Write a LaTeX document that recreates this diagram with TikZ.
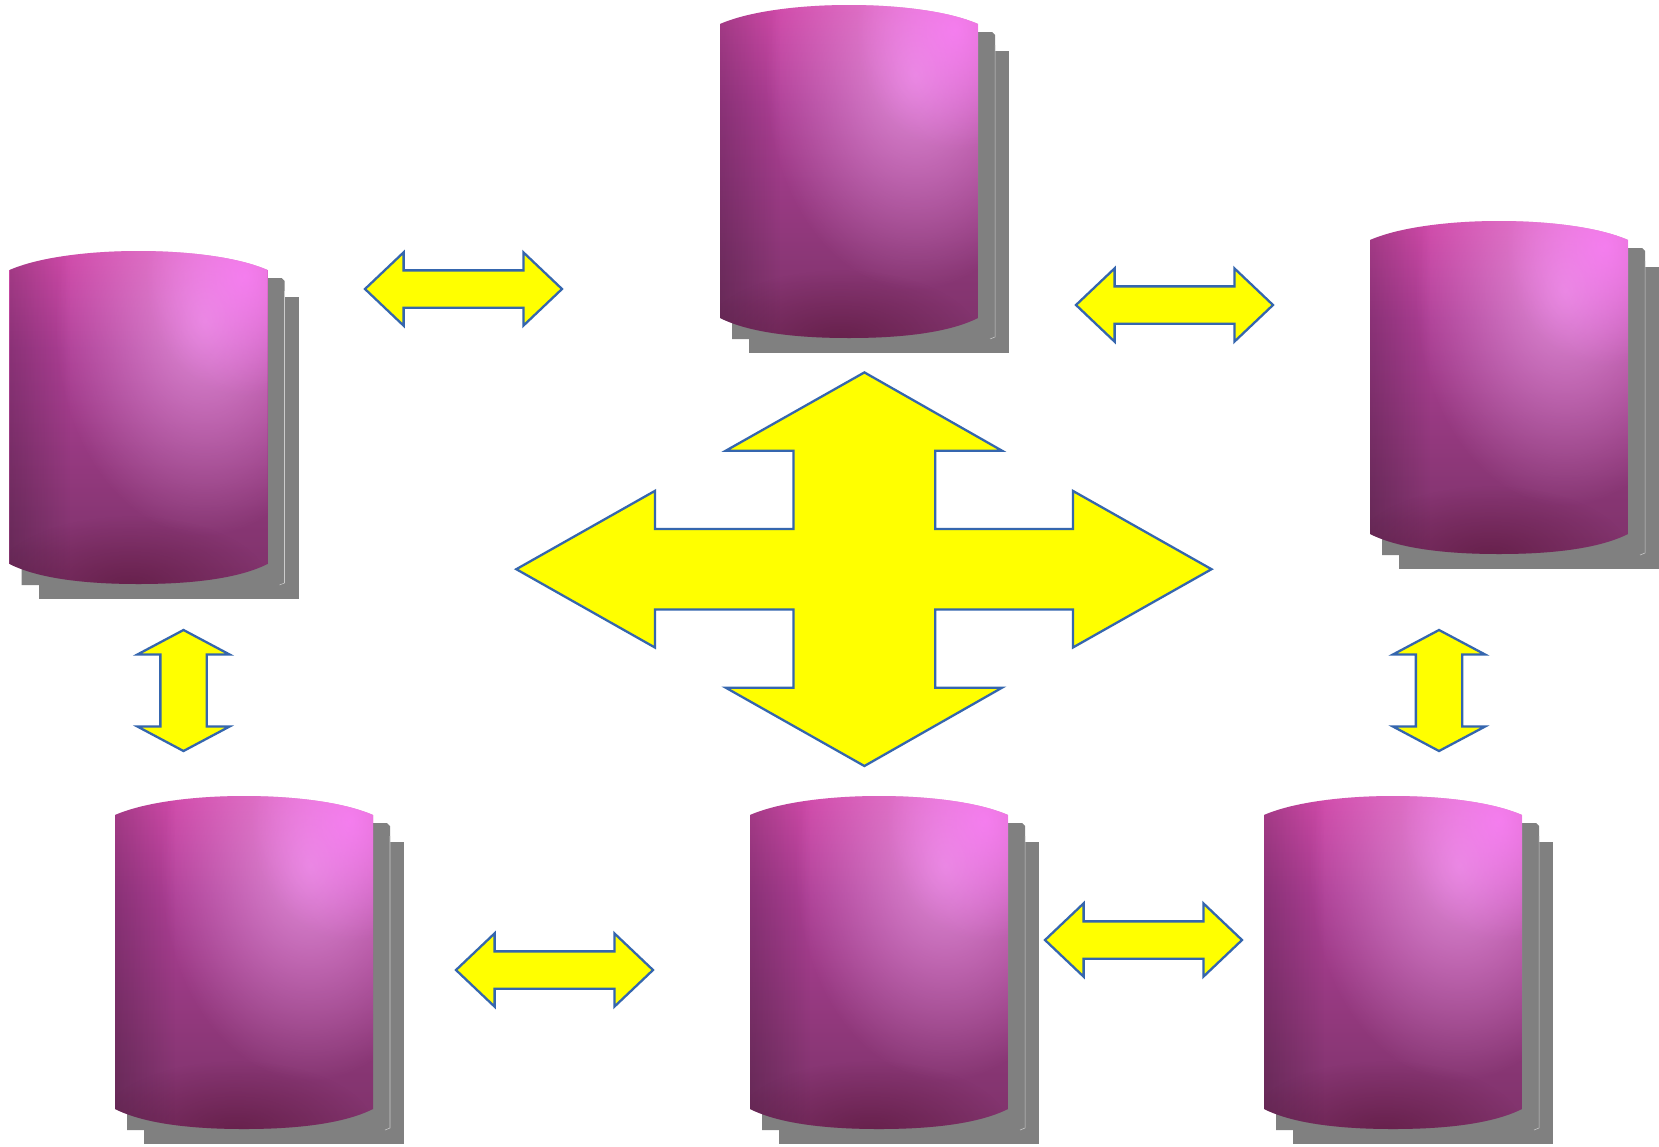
\documentclass[tikz,border=0pt]{standalone}
\usetikzlibrary{shapes.arrows,fadings}
\newcommand{\pxu}{0.02cm}
\tikzfading[name=softglow, inner color=transparent!30, outer color=transparent!100]
\tikzfading[name=edgeleft, left color=transparent!80, right color=transparent!100]
\definecolor{drumA}{RGB}{106,40,88}
\definecolor{drumB}{RGB}{116,46,94}
\definecolor{drumC}{RGB}{136,54,116}
\definecolor{drumD}{RGB}{172,62,148}
\definecolor{drumE}{RGB}{226,80,180}
\definecolor{drumF}{RGB}{252,92,204}
\definecolor{drumglow}{RGB}{244,170,242}
\definecolor{drumrim}{RGB}{255,130,255}
\definecolor{arrowline}{RGB}{53,102,174}
\definecolor{arrowfill}{RGB}{255,255,0}
\definecolor{drumshadow}{RGB}{128,128,128}
\pgfdeclareverticalshading{drumbody}{100bp}{
  color(0bp)=(drumA); color(12bp)=(drumB); color(35bp)=(drumC);
  color(60bp)=(drumD); color(82bp)=(drumE); color(100bp)=(drumF)}
\tikzset{
	drum/.pic={
		\fill[drumshadow] (29,46) -- (289,46) -- (289,348) -- (29,348) -- cycle;
		\fill[drumshadow] (12,27) -- (272,27) -- (275,30) -- (275,334) -- (12,334) -- cycle;
		\draw[white!80!black,line width=0.3pt] (275,40) -- (275,332) -- (270,334);
		\begin{scope}
			\clip (0,19) .. controls (30,6) and (80,0) .. (129,0) .. controls (178,0) and (228,6) .. (258,19)
				-- (258,313) .. controls (228,328) and (180,333) .. (129,333) .. controls (78,333) and (30,328) .. (0,313) -- cycle;
			\shade[shading=drumbody] (0,0) rectangle (258,333);
			\fill[drumglow,path fading=softglow] (195,70) ellipse (150 and 215);
			\fill[drumrim,path fading=softglow] (235,25) ellipse (100 and 120);
			\fill[black,path fading=edgeleft,fit fading=true] (0,0) rectangle (60,333);
			\fill[black!70!purple,opacity=0.5,path fading=softglow] (120,335) ellipse (140 and 70);
		\end{scope}
	},
	blockline/.style={draw=arrowline,line width=1.3pt,fill=arrowfill,line join=miter},
	sidearrow/.style={blockline,double arrow,inner sep=17.5*\pxu,minimum height=197*\pxu,minimum width=73*\pxu,
		double arrow head extend=18*\pxu,double arrow tip angle=87},
	uparrow/.style={blockline,double arrow,shape border rotate=90,inner sep=22*\pxu,minimum height=121*\pxu,minimum width=90*\pxu,
		double arrow head extend=23*\pxu,double arrow tip angle=124}
}

\begin{document}
\begin{tikzpicture}[x=\pxu,y=-\pxu]
	\fill[white] (0,0) rectangle (1659,1146);
	\pic (drumtop) at (720,5) {drum};
	\pic (drumleft) at (9.5,251) {drum};
	\pic (drumright) at (1370,221) {drum};
	\pic (drumlow) at (115,796) {drum};
	\pic (drummid) at (750,796) {drum};
	\pic (drumend) at (1264,796) {drum};
	\node[sidearrow] (ab) at (463.5,289) {};
	\node[sidearrow] (bc) at (1174.5,305) {};
	\node[sidearrow] (de) at (554.5,970) {};
	\node[sidearrow] (ef) at (1143.5,940) {};
	\node[uparrow] (ad) at (183.5,690.5) {};
	\node[uparrow] (cf) at (1439,690.5) {};
	\draw[blockline] (864.4,372.4) -- (1002,450.7) -- (935.3,450.7) -- (935.3,529) -- (1072.9,529) -- (1072.9,490.9)
		-- (1211.5,569.2) -- (1072.9,647.5) -- (1072.9,609.4) -- (935.3,609.4) -- (935.3,687.7) -- (1002,687.7)
		-- (864.4,766) -- (725.8,687.7) -- (793.5,687.7) -- (793.5,609.4) -- (654.9,609.4) -- (654.9,647.5)
		-- (516.3,569.2) -- (654.9,490.9) -- (654.9,529) -- (793.5,529) -- (793.5,450.7) -- (725.8,450.7) -- cycle;
\end{tikzpicture}
\end{document}
